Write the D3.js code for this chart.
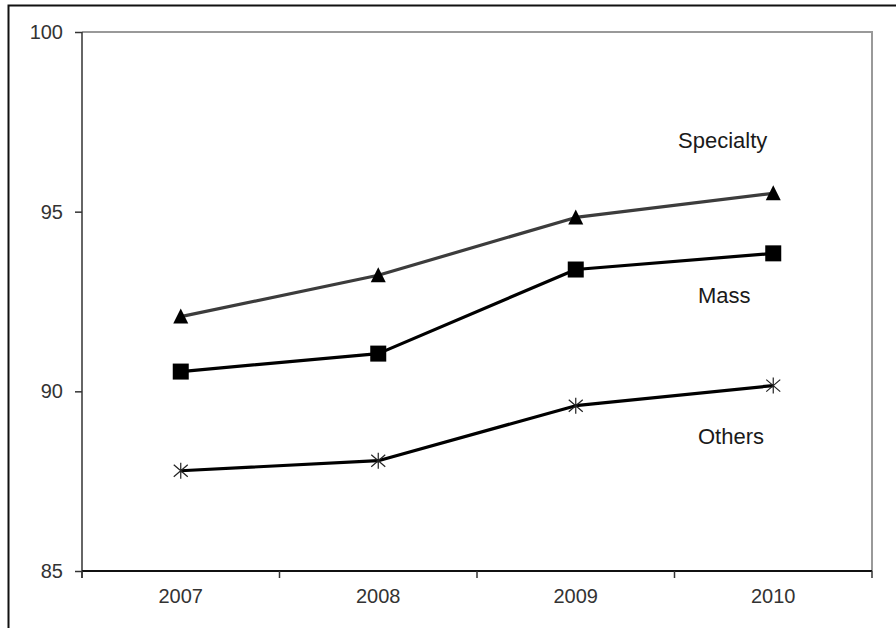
<!DOCTYPE html>
<html>
<head>
<meta charset="utf-8">
<script src="https://cdn.jsdelivr.net/npm/d3@7"></script>
<style>
  body { margin: 0; background: #fff; }
  svg { display: block; font-family: "Liberation Sans", Arial, sans-serif; }
</style>
</head>
<body>
<div id="chart"></div>
<script>
// data
const years = ['2007', '2008', '2009', '2010'];
const specialty = [92.08, 93.23, 94.84, 95.51];
const mass = [90.55, 91.05, 93.39, 93.84];
const others = [87.79, 88.07, 89.6, 90.16];
const yTicks = [85, 90, 95, 100];
const seriesNames = ['Specialty', 'Mass', 'Others'];

const W = 896, H = 628;
const margin = { top: 32, right: 24, bottom: 57, left: 82 };

const svg = d3.select('#chart').append('svg')
  .attr('width', W).attr('height', H);

// outer frame (cropped on the right and bottom)
svg.append('rect')
  .attr('x', 8.5).attr('y', 5.5)
  .attr('width', W).attr('height', H)
  .attr('fill', 'none').attr('stroke', '#111').attr('stroke-width', 2);

const x = d3.scaleBand().domain(years).range([margin.left, W - margin.right]).padding(0);
const y = d3.scaleLinear().domain([85, 100]).range([H - margin.bottom, margin.top]);

const x0 = x.range()[0], x1 = x.range()[1];

// plot area border top / right
svg.append('path')
  .attr('d', `M${x0},${y(100)}H${x1}V${y(85)}`)
  .attr('fill', 'none').attr('stroke', '#999').attr('stroke-width', 2);

// y axis
const yAxis = svg.append('g')
  .attr('transform', `translate(${x0},0)`)
  .call(d3.axisLeft(y).tickValues(yTicks).tickSize(7).tickPadding(12));
yAxis.select('.domain').attr('stroke', '#333').attr('stroke-width', 1.5)
  .attr('d', `M0,${y(100)}V${y(85) + 7}`);
yAxis.selectAll('.tick line').attr('stroke', '#333').attr('stroke-width', 1.5);
yAxis.selectAll('text').attr('font-size', 20).attr('fill', '#333')
  .attr('font-family', '"Liberation Sans", Arial, sans-serif');

// x axis
const xAxis = svg.append('g')
  .attr('transform', `translate(0,${y(85)})`)
  .call(d3.axisBottom(x).tickSize(0).tickPadding(18));
xAxis.select('.domain').attr('stroke', '#111').attr('stroke-width', 2)
  .attr('d', `M${x0},0H${x1}`);
xAxis.selectAll('text').attr('font-size', 20).attr('fill', '#333')
  .attr('font-family', '"Liberation Sans", Arial, sans-serif');

// ticks between categories
const edges = years.map(d => x(d)).concat([x1]);
xAxis.selectAll('line.edge')
  .data(edges)
  .enter()
  .append('line')
  .attr('class', 'edge')
  .attr('x1', d => d).attr('x2', d => d)
  .attr('y1', 0).attr('y2', 7)
  .attr('stroke', '#333').attr('stroke-width', 1.5);

const cx = d => x(d) + x.bandwidth() / 2;
const line = d3.line().x(d => cx(d.year)).y(d => y(d.value));
const toPts = vals => years.map((yr, i) => ({ year: yr, value: vals[i] }));

const series = [
  { name: seriesNames[0], values: toPts(specialty), color: '#3c3c3c', marker: 'triangle' },
  { name: seriesNames[1], values: toPts(mass), color: '#000', marker: 'square' },
  { name: seriesNames[2], values: toPts(others), color: '#000', marker: 'star' }
];

series.forEach(s => {
  svg.append('path')
    .datum(s.values)
    .attr('d', line)
    .attr('fill', 'none')
    .attr('stroke', s.color)
    .attr('stroke-width', 3.2)
    .attr('stroke-linejoin', 'round');

  const g = svg.append('g');
  const pts = g.selectAll('g.pt')
    .data(s.values)
    .enter()
    .append('g')
    .attr('transform', d => `translate(${cx(d.year)},${y(d.value)})`);

  if (s.marker === 'triangle') {
    pts.append('path').attr('d', 'M0,-8L7.5,7L-7.5,7Z').attr('fill', '#000');
  } else if (s.marker === 'square') {
    pts.append('rect').attr('x', -8).attr('y', -8).attr('width', 16).attr('height', 16).attr('fill', '#000');
  } else {
    pts.append('path')
      .attr('d', 'M0,-8V8M-7,-6L7,6M-7,6L7,-6')
      .attr('stroke', '#222').attr('stroke-width', 1.2).attr('fill', 'none');
  }
});

// series labels
const labelPos = [
  { x: 678, y: 148 },
  { x: 698, y: 303 },
  { x: 698, y: 444 }
];
svg.selectAll('text.series-label')
  .data(seriesNames)
  .enter()
  .append('text')
  .attr('class', 'series-label')
  .attr('x', (d, i) => labelPos[i].x)
  .attr('y', (d, i) => labelPos[i].y)
  .attr('font-size', 22)
  .attr('fill', '#1a1a1a')
  .text(d => d);
</script>
</body>
</html>
